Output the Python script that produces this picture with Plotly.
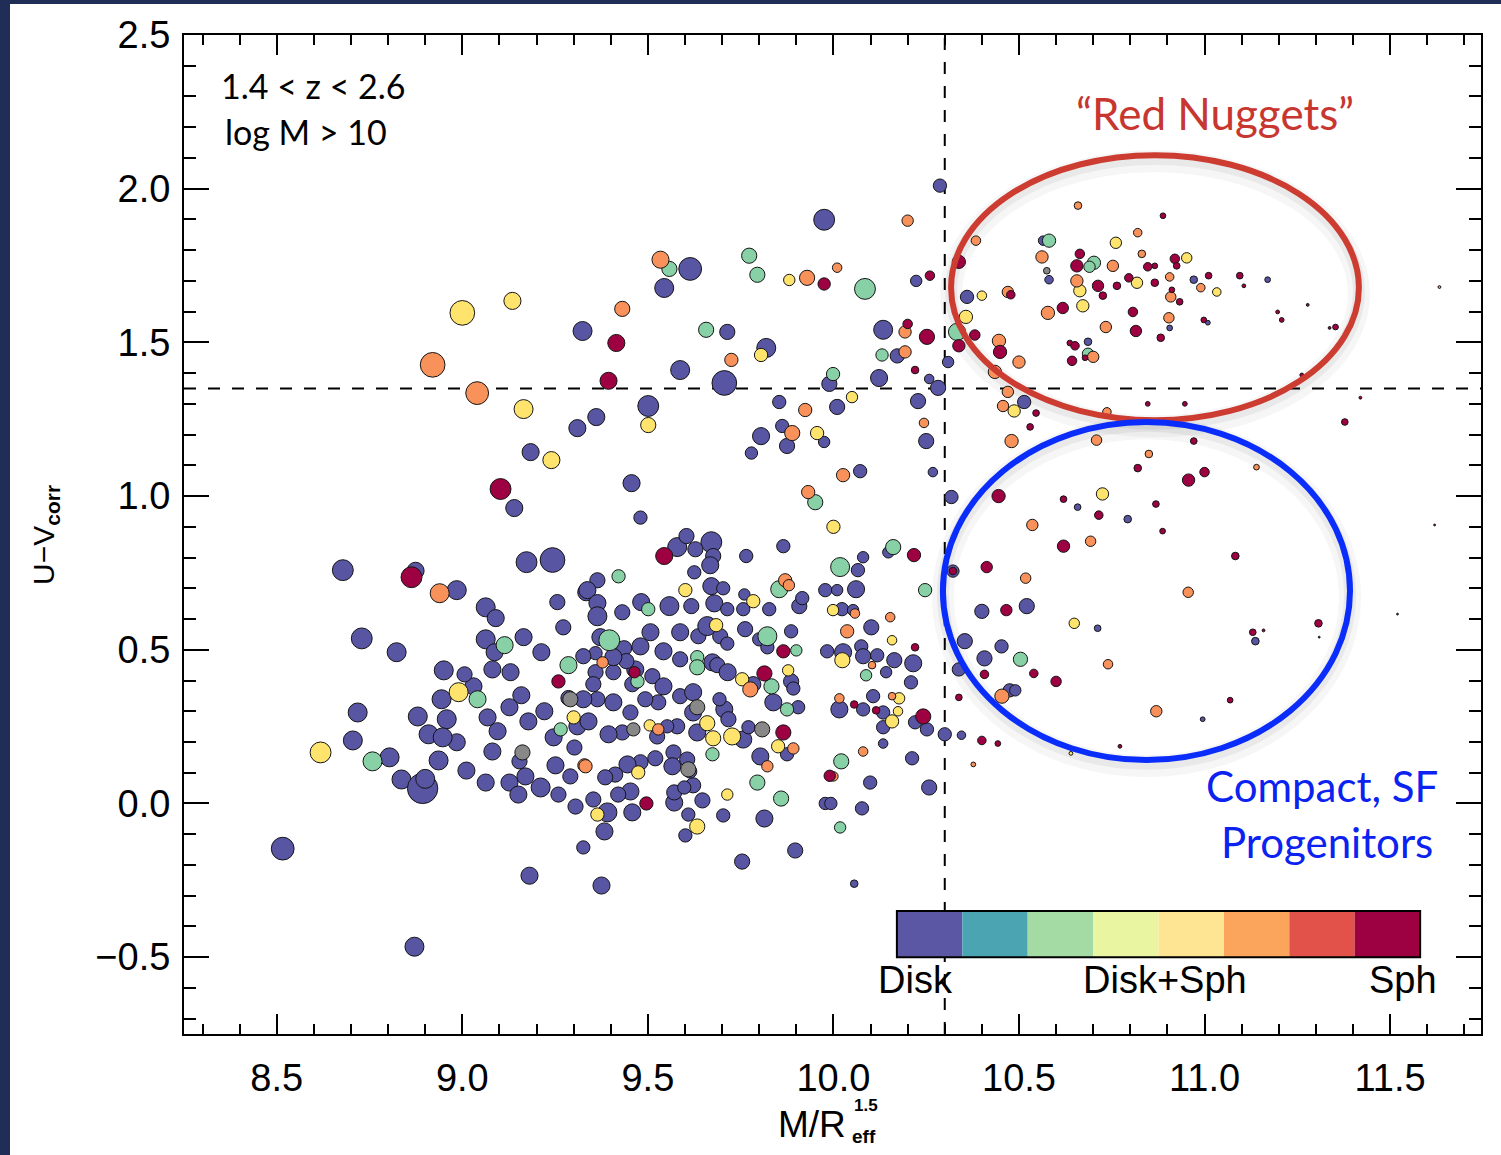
import plotly.graph_objects as go

# ---------------- data ----------------
# Disk-dominated (purple)
disk_x = [9.975, 10.287, 9.614, 9.544, 10.223, 9.324, 9.714, 9.819, 9.587, 9.706,
          10.134, 10.172, 10.123, 10.258, 10.282, 9.989, 9.501, 9.361, 9.31, 9.854,
          10.01, 10.228, 10.25, 9.862, 9.805, 9.875, 9.975, 9.779, 9.456, 10.072,
          10.268, 10.318, 9.184, 9.14, 9.48, 10.565, 10.581, 10.971, 11.17, 10.686,
          10.906, 11.009, 10.36, 10.309, 10.514, 10.658, 10.793, 10.322, 10.40, 10.521,
          10.712, 11.137, 10.354, 10.453, 10.407, 10.338, 10.475, 10.49, 10.995, 10.30,
          10.345, 8.678, 8.874, 8.985, 9.173, 9.243, 9.063, 9.09, 8.729, 8.823,
          8.95, 8.718, 8.705, 8.804, 8.836, 8.893, 8.9, 8.936, 9.011, 9.03,
          8.88, 8.909, 8.944, 8.958, 8.985, 8.947, 9.063, 9.087, 9.165, 9.213,
          9.13, 9.081, 9.006, 9.159, 9.127, 9.068, 9.095, 9.178, 9.221, 9.246,
          9.081, 9.154, 9.17, 9.211, 9.063, 9.127, 9.151, 9.259, 9.305, 9.286,
          9.31, 9.302, 9.251, 9.291, 9.353, 9.326, 9.359, 9.334, 9.256, 9.272,
          8.516, 8.871, 9.181, 9.375, 9.754, 9.897, 10.056, 10.077, 9.978, 9.993,
          10.258, 9.814, 9.703, 9.601, 9.609, 9.571, 9.571, 9.647, 9.622, 9.598,
          9.458, 9.453, 9.42, 9.391, 9.383, 9.579, 9.604, 9.671, 9.628, 9.676,
          9.668, 9.625, 9.671, 9.703, 9.679, 9.765, 9.865, 9.364, 9.337, 9.364,
          9.364, 9.431, 9.482, 9.558, 9.617, 9.714, 9.757, 9.827, 9.76, 9.908,
          9.916, 9.978, 10.01, 10.061, 10.066, 10.08, 10.148, 10.023, 10.053, 10.102,
          10.075, 9.983, 10.026, 10.08, 10.118, 10.164, 10.215, 10.142, 10.209, 10.107,
          10.08, 10.134, 10.016, 10.252, 10.22, 10.134, 10.134, 10.212, 10.099, 9.372,
          9.436, 9.48, 9.542, 9.507, 9.587, 9.636, 9.66, 9.695, 9.762, 9.714,
          9.80, 9.886, 9.822, 9.587, 9.674, 9.687, 9.715, 9.784, 9.886, 9.892,
          9.905, 9.838, 9.359, 9.407, 9.466, 9.458, 9.512, 9.542, 9.528, 9.493,
          9.587, 9.622, 9.622, 9.706, 9.693, 9.717, 9.875, 9.803, 9.757, 9.771,
          9.633, 9.579, 9.552, 9.525, 9.569, 9.52, 9.566, 9.606, 9.614, 9.48,
          9.445, 9.412, 9.385, 9.431, 9.394, 9.34, 9.364, 9.407, 9.453, 9.353,
          9.442, 9.407, 9.326, 9.326]
disk_y = [1.899, 2.01, 1.739, 1.677, 1.70, 1.537, 1.534, 1.482, 1.41, 1.368,
          1.541, 1.456, 1.384, 1.381, 1.352, 1.365, 1.293, 1.257, 1.221, 1.306,
          1.29, 1.309, 1.179, 1.228, 1.195, 1.163, 1.176, 1.14, 1.042, 1.081,
          1.078, 0.997, 1.143, 0.961, 0.93, 1.831, 1.704, 1.704, 1.704, 1.502,
          1.547, 1.564, 1.648, 1.436, 1.306, 0.964, 0.925, 0.756, 0.625, 0.642,
          0.57, 0.528, 0.528, 0.511, 0.472, 0.436, 0.368, 0.368, 0.274, 0.225,
          0.222, 0.759, 0.757, 0.694, 0.785, 0.792, 0.638, 0.603, 0.537, 0.492,
          0.433, 0.296, 0.205, 0.15, 0.078, 0.049, 0.08, 0.14, 0.107, 0.381,
          0.283, 0.225, 0.339, 0.274, 0.199, 0.215, 0.534, 0.492, 0.541, 0.492,
          0.427, 0.436, 0.42, 0.352, 0.313, 0.28, 0.235, 0.267, 0.30, 0.215,
          0.169, 0.137, 0.088, 0.052, 0.068, 0.068, 0.029, 0.029, -0.01, 0.343,
          0.251, 0.182, 0.124, 0.088, 0.013, -0.143, 0.489, 0.687, 0.655, 0.573,
          -0.147, -0.466, -0.235, -0.267, -0.189, -0.153, -0.261, -0.016, 0.0, 0.0,
          0.052, -0.049, -0.039, -0.104, -0.036, 0.003, 0.036, 0.01, 0.059, 0.052,
          -0.029, 0.039, 0.029, -0.029, -0.091, 0.834, 0.87, 0.85, 0.827, 0.805,
          0.775, 0.752, 0.707, 0.70, 0.651, 0.805, 0.837, 0.726, 0.694, 0.652,
          0.609, 0.622, 0.655, 0.642, 0.642, 0.632, 0.632, 0.632, 0.68, 0.642,
          0.668, 0.694, 0.694, 0.697, 0.759, 0.801, 0.817, 0.632, 0.629, 0.573,
          0.511, 0.495, 0.492, 0.479, 0.482, 0.466, 0.456, 0.427, 0.394, 0.349,
          0.306, 0.296, 0.306, 0.241, 0.264, 0.248, 0.195, 0.147, 0.068, 0.541,
          0.505, 0.511, 0.495, 0.557, 0.557, 0.544, 0.577, 0.544, 0.567, 0.52,
          0.534, 0.56, 0.508, 0.469, 0.459, 0.45, 0.427, 0.388, 0.397, 0.374,
          0.313, 0.329, 0.427, 0.427, 0.436, 0.388, 0.414, 0.381, 0.329, 0.339,
          0.349, 0.362, 0.296, 0.306, 0.339, 0.274, 0.16, 0.153, 0.208, 0.248,
          0.231, 0.251, 0.251, 0.218, 0.166, 0.147, 0.121, 0.143, 0.104, 0.134,
          0.127, 0.094, 0.085, 0.231, 0.225, 0.267, 0.339, 0.329, 0.296, 0.388,
          0.463, 0.476, 0.479, 0.339]
disk_rad = [22, 14, 24, 20, 12, 20, 16, 20, 20, 26,
            20, 15, 18, 10, 16, 16, 22, 18, 18, 14,
            16, 16, 16, 14, 18, 16, 12, 13, 18, 14,
            10, 14, 18, 18, 14, 10, 9, 8, 6, 8,
            6, 5, 14, 12, 14, 7, 8, 13, 15, 16,
            7, 8, 16, 14, 16, 14, 14, 12, 5, 14,
            9, 22, 18, 20, 22, 26, 20, 18, 22, 20,
            20, 20, 20, 20, 20, 32, 20, 20, 18, 18,
            20, 20, 20, 20, 18, 20, 20, 18, 18, 18,
            18, 18, 16, 18, 18, 18, 18, 18, 18, 18,
            18, 16, 18, 20, 18, 18, 18, 16, 16, 16,
            18, 16, 18, 16, 16, 14, 14, 18, 16, 16,
            24, 20, 18, 18, 16, 16, 8, 14, 13, 13,
            16, 18, 14, 14, 14, 18, 16, 16, 16, 14,
            18, 18, 16, 20, 18, 20, 16, 22, 16, 16,
            18, 14, 18, 14, 18, 14, 14, 16, 18, 18,
            20, 16, 18, 20, 16, 14, 14, 14, 12, 16,
            14, 14, 12, 18, 14, 12, 12, 14, 12, 16,
            14, 14, 18, 16, 14, 16, 18, 12, 14, 14,
            14, 14, 18, 14, 14, 14, 10, 14, 14, 18,
            16, 18, 18, 18, 18, 16, 20, 16, 16, 14,
            14, 14, 14, 16, 18, 16, 18, 16, 16, 14,
            14, 18, 16, 16, 18, 16, 16, 18, 16, 16,
            16, 18, 18, 18, 14, 16, 14, 18, 18, 14,
            18, 16, 14, 16, 16, 16, 18, 16, 14, 16,
            18, 16, 16, 16, 18, 18, 16, 18, 16, 16,
            16, 18, 16, 18]

# Unclassified (grey)
gray_x = [10.575, 9.291, 9.162, 9.633, 9.808, 9.461, 9.609]
gray_y = [1.733, 0.339, 0.166, 0.313, 0.241, 0.241, 0.111]
gray_rad = [7, 16, 16, 16, 16, 14, 16]

# Disk-like intermediate (green)
green_x = [9.558, 9.773, 9.795, 10.085, 9.657, 10.131, 9.999, 9.951, 10.581, 10.702,
           10.69, 10.333, 10.686, 10.504, 8.758, 9.041, 9.114, 9.286, 9.265, 10.018,
           9.859, 9.795, 9.421, 9.501, 9.854, 10.018, 10.161, 10.247, 10.088, 10.021,
           9.396, 9.822, 9.9, 9.633, 9.633, 9.833, 9.875, 9.472, 9.674]
green_y = [1.739, 1.782, 1.72, 1.674, 1.541, 1.459, 1.397, 0.98, 1.831, 1.759,
           1.746, 1.534, 1.463, 0.469, 0.137, 0.339, 0.515, 0.45, 0.241, -0.078,
           0.016, 0.068, 0.739, 0.632, 0.697, 0.769, 0.834, 0.694, 0.417, 0.137,
           0.531, 0.544, 0.498, 0.476, 0.443, 0.381, 0.306, 0.397, 0.16]
green_rad = [16, 16, 16, 22, 16, 13, 14, 16, 14, 14,
             12, 18, 12, 15, 20, 18, 18, 18, 14, 12,
             16, 16, 14, 14, 18, 20, 16, 14, 12, 16,
             22, 20, 12, 14, 16, 16, 14, 14, 14]

# Disk+Sph (yellow)
yellow_x = [9.0, 9.135, 9.165, 9.24, 9.881, 9.805, 9.501, 10.05, 9.956, 10.0,
            10.761, 10.952, 10.664, 10.818, 11.033, 10.40, 10.672, 10.357, 10.487, 10.725,
            10.649, 10.64, 8.618, 8.99, 9.30, 9.364, 9.714, 9.633, 9.601, 9.784,
            9.999, 10.158, 10.024, 10.177, 10.174, 10.158, 9.684, 9.754, 9.878, 9.66,
            9.676, 9.727, 9.851, 9.474, 9.505]
yellow_y = [1.596, 1.635, 1.283, 1.117, 1.703, 1.459, 1.231, 1.322, 1.205, 0.9,
            1.824, 1.775, 1.668, 1.694, 1.664, 1.652, 1.619, 1.583, 1.277, 1.007,
            0.586, 0.163, 0.166, 0.362, 0.28, -0.036, 0.029, -0.075, 0.694, 0.658,
            0.629, 0.531, 0.466, 0.342, 0.30, 0.267, 0.58, 0.404, 0.433, 0.261,
            0.212, 0.218, 0.186, 0.101, 0.254]
yellow_rad = [26, 18, 20, 18, 12, 14, 16, 12, 14, 14,
              12, 11, 13, 12, 9, 10, 13, 14, 13, 13,
              11, 4, 22, 20, 14, 14, 12, 16, 14, 14,
              12, 10, 16, 12, 10, 14, 14, 14, 12, 16,
              16, 18, 14, 14, 12]

# Sph-like intermediate (orange)
orange_x = [10.20, 9.534, 9.929, 10.01, 9.431, 8.92, 9.04, 9.725, 10.193, 10.193,
            9.924, 10.244, 9.889, 10.026, 9.932, 10.659, 10.384, 10.82, 10.562, 10.831,
            10.753, 10.906, 10.99, 10.656, 10.909, 10.47, 10.578, 10.904, 10.734, 10.446,
            10.5, 10.70, 10.435, 10.47, 10.457, 10.737, 10.48, 10.709, 10.85, 11.14,
            10.536, 10.693, 10.518, 10.956, 10.74, 10.454, 10.87, 10.377, 11.633, 8.939,
            9.329, 9.87, 9.88, 10.037, 10.058, 10.153, 10.104, 10.158, 10.016, 10.08,
            10.0, 9.378, 9.776, 9.892, 9.822, 9.332, 9.528]
orange_y = [1.896, 1.769, 1.71, 1.743, 1.609, 1.427, 1.335, 1.443, 1.534, 1.469,
            1.28, 1.238, 1.205, 1.068, 1.013, 1.945, 1.831, 1.857, 1.778, 1.788,
            1.749, 1.713, 1.678, 1.70, 1.648, 1.664, 1.596, 1.58, 1.55, 1.505,
            1.436, 1.453, 1.404, 1.339, 1.293, 1.274, 1.179, 1.182, 1.137, 1.094,
            0.906, 0.853, 0.733, 0.687, 0.453, 0.349, 0.30, 0.127, 1.68, 0.684,
            0.124, 0.726, 0.71, 0.56, 0.618, 0.606, 0.45, 0.349, 0.342, 0.169,
            0.088, 0.459, 0.371, 0.179, 0.121, 0.121, 0.241]
orange_rad = [12, 18, 16, 10, 16, 26, 24, 14, 13, 13,
              14, 10, 16, 14, 14, 8, 10, 9, 13, 8,
              12, 9, 9, 13, 11, 12, 14, 11, 12, 14,
              13, 12, 14, 12, 12, 9, 14, 11, 8, 6,
              12, 11, 11, 11, 10, 15, 12, 5, 3, 20,
              14, 14, 12, 14, 10, 10, 8, 8, 10, 10,
              10, 12, 16, 12, 12, 14, 12]

# Spheroid (crimson)
sph_x = [9.975, 10.26, 9.415, 9.394, 10.2, 10.252, 10.22, 9.103, 8.863, 10.888,
         10.338, 10.664, 10.656, 10.92, 10.925, 10.847, 10.866, 10.796, 11.011, 11.095,
         11.106, 10.912, 10.713, 10.764, 10.866, 10.726, 10.933, 10.478, 10.618, 10.807,
         10.998, 11.197, 11.208, 11.278, 11.353, 11.337, 10.815, 10.882, 10.381, 10.338,
         10.449, 10.637, 10.651, 10.643, 10.678, 10.546, 10.53, 10.847, 10.947, 11.262,
         11.378, 11.42, 10.971, 10.82, 11.0, 10.957, 10.445, 10.62, 10.715, 10.869,
         10.887, 10.62, 11.083, 10.322, 10.413, 10.466, 11.307, 11.13, 10.407, 10.54,
         10.60, 10.338, 11.069, 10.40, 10.443, 10.772, 9.259, 9.496, 9.544, 10.217,
         10.22, 10.056, 10.115, 10.242, 9.99, 9.865, 9.814, 9.865, 9.464, 11.159,
         11.309, 11.52, 11.62]
sph_y = [1.69, 1.717, 1.498, 1.375, 1.56, 1.518, 1.41, 1.023, 0.736, 1.912,
         1.762, 1.788, 1.749, 1.772, 1.749, 1.746, 1.749, 1.71, 1.717, 1.717,
         1.684, 1.671, 1.684, 1.684, 1.694, 1.652, 1.632, 1.655, 1.612, 1.599,
         1.573, 1.599, 1.573, 1.622, 1.55, 1.547, 1.537, 1.515, 1.524, 1.489,
         1.469, 1.498, 1.489, 1.44, 1.45, 1.27, 1.225, 1.30, 1.30, 1.394,
         1.241, 1.32, 1.179, 1.091, 1.078, 1.052, 1.0, 0.99, 0.938, 0.974,
         0.886, 0.837, 0.805, 0.756, 0.769, 0.629, 0.586, 0.557, 0.42, 0.423,
         0.397, 0.345, 0.336, 0.205, 0.195, 0.186, 0.397, 0.0, 0.805, 0.808,
         0.508, 0.322, 0.303, 0.283, 0.09, 0.495, 0.423, 0.231, 0.427, 0.563,
         0.541, 0.616, 0.906]
sph_rad = [13, 10, 18, 18, 10, 16, 8, 22, 22, 6,
           14, 10, 13, 10, 7, 9, 6, 9, 7, 7,
           4, 6, 12, 8, 8, 8, 7, 9, 12, 10,
           6, 4, 5, 3, 6, 3, 12, 8, 11, 13,
           14, 6, 9, 10, 6, 7, 7, 5, 5, 4,
           7, 3, 7, 8, 10, 13, 14, 7, 9, 7,
           6, 13, 8, 8, 12, 12, 8, 7, 9, 9,
           11, 7, 6, 9, 6, 4, 14, 14, 18, 14,
           8, 8, 8, 16, 12, 14, 16, 16, 12, 3,
           2, 2, 2]

# colour-bar classes
cbar_labels = ["Disk", "Disk+Sph", "Sph"]
cbar_colors = ["#5b57a5", "#4aa4b2", "#a4daa4", "#e9f5a1",
               "#fee593", "#fba55c", "#e2514a", "#9e0142"]

# selection cuts
x_cut = 10.3
y_cut = 1.35

# ---------------- figure ----------------
W, H = 1501, 1155
ML, MR, MT, MB = 184, 20, 35, 121
PW, PH = W - ML - MR, H - MT - MB


def pp(px, py):
    return (px - ML) / PW, (H - MB - py) / PH


RAD_SCALE = 0.95
series = [
    ("Disk", disk_x, disk_y, disk_rad, "#5855a3"),
    ("Unclass.", gray_x, gray_y, gray_rad, "#888888"),
    ("Disk-like", green_x, green_y, green_rad, "#88d0a5"),
    ("Disk+Sph", yellow_x, yellow_y, yellow_rad, "#fee46d"),
    ("Sph-like", orange_x, orange_y, orange_rad, "#f8925a"),
    ("Sph", sph_x, sph_y, sph_rad, "#9e0142"),
]

fig = go.Figure()
for name, xs, ys, rs, col in series:
    fig.add_trace(go.Scatter(
        x=xs, y=ys, mode="markers", name=name,
        marker=dict(size=[RAD_SCALE * r for r in rs], color=col,
                    line=dict(color="#151515", width=1), opacity=1),
        hoverinfo="skip"))

shapes = []
# dashed cuts
shapes.append(dict(type="line", xref="x", yref="y", x0=x_cut, x1=x_cut, y0=-0.75, y1=2.5,
                   line=dict(color="black", width=2, dash="12px,12px"), layer="below"))
shapes.append(dict(type="line", xref="x", yref="y", x0=8.25, x1=11.745, y0=y_cut, y1=y_cut,
                   line=dict(color="black", width=2, dash="12px,12px"), layer="below"))

# ellipse shadows
for (x0, x1, y0, y1) in [(10.317, 11.416, 1.247, 2.109), (10.295, 11.392, 0.141, 1.241)]:
    for w, a, dy in [(22, 0.035, -0.02), (12, 0.05, -0.012)]:
        shapes.append(dict(type="circle", xref="x", yref="y", x0=x0, x1=x1,
                           y0=y0 + dy, y1=y1 + dy,
                           line=dict(color=f"rgba(0,0,0,{a})", width=w), layer="below"))
# ellipses
shapes.append(dict(type="circle", xref="x", yref="y", x0=10.317, x1=11.416, y0=1.247, y1=2.109,
                   line=dict(color="#cd3c31", width=6)))
shapes.append(dict(type="circle", xref="x", yref="y", x0=10.295, x1=11.392, y0=0.141, y1=1.241,
                   line=dict(color="#0a2dfb", width=6)))

# colour bar boxes
cb_x0, cb_x1, cb_y0, cb_y1 = 10.171, 11.581, -0.5, -0.35
n = len(cbar_colors)
step = (cb_x1 - cb_x0) / n
for i, c in enumerate(cbar_colors):
    shapes.append(dict(type="rect", xref="x", yref="y", x0=cb_x0 + i * step, x1=cb_x0 + (i + 1) * step,
                       y0=cb_y0, y1=cb_y1, line=dict(width=0), fillcolor=c))
shapes.append(dict(type="rect", xref="x", yref="y", x0=cb_x0, x1=cb_x1, y0=cb_y0, y1=cb_y1,
                   line=dict(color="black", width=2), fillcolor="rgba(0,0,0,0)"))

# dark slide border (left and top)
lx0, _ = pp(0, 0)
lx1, _ = pp(10, 0)
_, ty1 = pp(0, 0)
_, ty0 = pp(0, 4)
_, by0 = pp(0, H)
rx1, _ = pp(W, 0)
shapes.append(dict(type="rect", xref="paper", yref="paper", x0=lx0, x1=lx1, y0=by0, y1=ty1,
                   line=dict(width=0), fillcolor="#202d57"))
shapes.append(dict(type="rect", xref="paper", yref="paper", x0=lx0, x1=rx1, y0=ty0, y1=ty1,
                   line=dict(width=0), fillcolor="#202d57"))

ann = []


def add_text(text, px, py, size, color="black", family="Lato", xanchor="center", **kw):
    x, y = pp(px, py)
    ann.append(dict(text=text, x=x, y=y, xref="paper", yref="paper", showarrow=False,
                    xanchor=xanchor, yanchor="middle",
                    font=dict(family=family, size=size, color=color), **kw))


add_text("1.4 &lt; z &lt; 2.6", 219, 86, 34, xanchor="left")
add_text("log M &gt; 10", 223, 131, 34, xanchor="left")
add_text("\u201cRed Nuggets\u201d", 1215, 113, 44, color="#c8372f")
add_text("Compact, SF", 1440, 786, 42, color="#0b22f0", xanchor="right")
add_text("Progenitors", 1435, 842, 42, color="#0b22f0", xanchor="right")
# colour-bar labels
add_text(cbar_labels[0], 915, 980, 38, family="Liberation Sans")
add_text(cbar_labels[1], 1165, 980, 38, family="Liberation Sans")
add_text(cbar_labels[2], 1403, 980, 38, family="Liberation Sans")
# axis titles
add_text("U\u2212V<sub><b>corr</b></sub>", 45, 535, 30, family="Liberation Sans", textangle=-90)
add_text("M/R", 812, 1124, 37, family="Liberation Sans")
add_text("<b>1.5</b>", 866, 1105, 17, family="Liberation Sans")
add_text("<b>eff</b>", 864, 1136, 19, family="Liberation Sans")

axis_common = dict(ticks="inside", tickwidth=2, tickcolor="black", showline=True, linewidth=2,
                   linecolor="black", mirror="ticks", showgrid=False, zeroline=False,
                   tickformat=".1f", tickmode="linear", dtick=0.5,
                   tickfont=dict(family="Liberation Sans", size=38, color="black"))

fig.update_layout(
    width=W, height=H,
    margin=dict(l=ML, r=MR, t=MT, b=MB, pad=0),
    paper_bgcolor="white", plot_bgcolor="white",
    showlegend=False,
    xaxis=dict(range=[8.25, 11.745], tick0=8.5, ticklen=20, ticklabelstandoff=9,
               minor=dict(ticks="inside", ticklen=10, tickwidth=2, tickcolor="black",
                          dtick=0.1, tick0=8.5, showgrid=False),
               **axis_common),
    yaxis=dict(range=[-0.75, 2.5], tick0=0, ticklen=25, ticklabelstandoff=4,
               minor=dict(ticks="inside", ticklen=12, tickwidth=2, tickcolor="black",
                          dtick=0.1, tick0=0, showgrid=False),
               **axis_common),
    shapes=shapes,
    annotations=ann,
)

fig.write_html("out.html", config={"displayModeBar": False},
               post_script="document.body.style.margin='0px';")
